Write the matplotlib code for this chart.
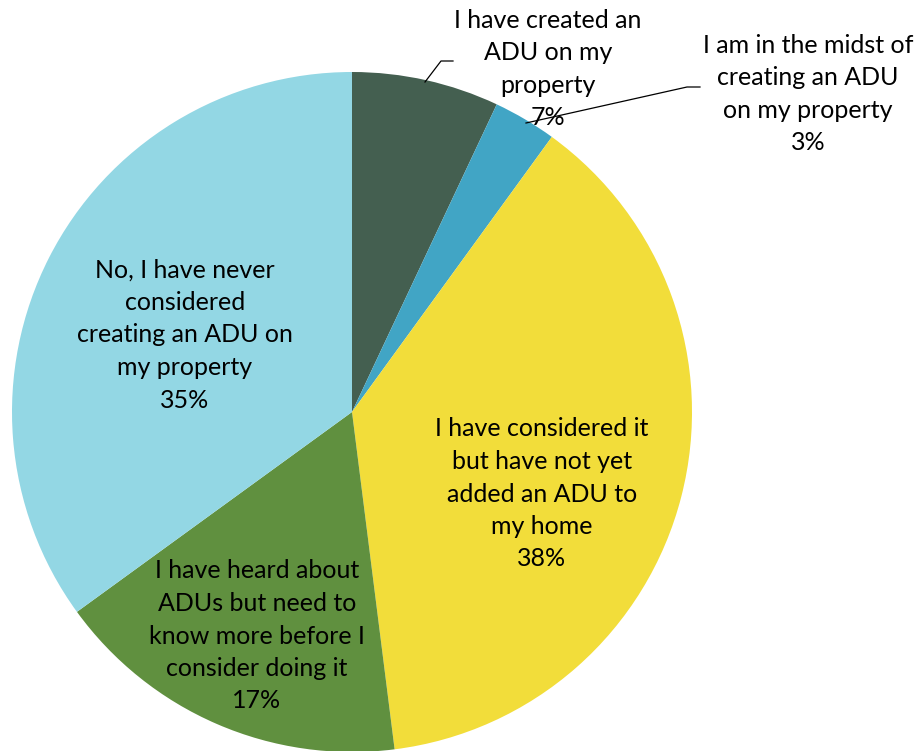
import matplotlib.pyplot as plt

# Survey responses about ADUs (accessory dwelling units)
labels = [
    "I have created an\nADU on my\nproperty",
    "I am in the midst of\ncreating an ADU\non my property",
    "I have considered it\nbut have not yet\nadded an ADU to\nmy home",
    "I have heard about\nADUs but need to\nknow more before I\nconsider doing it",
    "No, I have never\nconsidered\ncreating an ADU on\nmy property",
]
shares = [7, 3, 38, 17, 35]
colors = ["#445F50", "#41A5C5", "#F2DD3A", "#60903F", "#93D7E4"]

W, H = 923, 751
plt.rcParams["font.family"] = ["Lato", "DejaVu Sans"]

fig = plt.figure(figsize=(W / 100, H / 100), dpi=100)
ax = fig.add_axes([0, 0, 1, 1])

cx, cy, r = 352, H - 412, 340
ax.pie(shares, colors=colors, startangle=90, counterclock=False,
       center=(cx, cy), radius=r, frame=True)
ax.set_xlim(0, W)
ax.set_ylim(0, H)
ax.set_aspect("equal")
ax.axis("off")

# label centres, measured from the top-left corner
label_pos = [(548, 69), (808, 94), (542, 494), (257, 636), (185, 335)]
for lab, val, (x, y) in zip(labels, shares, label_pos):
    ax.text(x, H - y, f"{lab}\n{val}%", ha="center", va="center",
            fontsize=18, linespacing=1.5, color="black")

# leader lines for the two small slices
ax.plot([425, 441, 453], [H - 82, H - 61, H - 61], color="black", lw=0.9)
ax.plot([526, 687, 700], [H - 123, H - 87, H - 87], color="black", lw=0.9)

fig.savefig("out.png", dpi=100)
